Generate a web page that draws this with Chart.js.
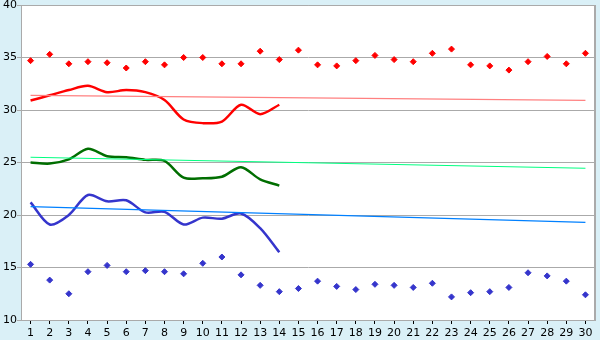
<!DOCTYPE html>
<html>
<head>
<meta charset="utf-8">
<script src="https://cdn.jsdelivr.net/npm/chart.js@4"></script>
<style>
  html, body { margin: 0; padding: 0; background: #daf0f7; }
  #wrap { width: 600px; height: 340px; }
</style>
</head>
<body>
<div id="wrap"><canvas id="graphique"></canvas></div>
<script>
var jours = ['1','2','3','4','5','6','7','8','9','10','11','12','13','14','15',
             '16','17','18','19','20','21','22','23','24','25','26','27','28','29','30'];
var maxi = [34.7,35.3,34.4,34.6,34.5,34.0,34.6,34.3,35.0,35.0,34.4,34.4,35.6,34.8,35.7,
            34.3,34.2,34.7,35.2,34.8,34.6,35.4,35.8,34.3,34.2,33.8,34.6,35.1,34.4,35.4];
var mini = [15.3,13.8,12.5,14.6,15.2,14.6,14.7,14.6,14.4,15.4,16.0,14.3,13.3,12.7,13.0,
            13.7,13.2,12.9,13.4,13.3,13.1,13.5,12.2,12.6,12.7,13.1,14.5,14.2,13.7,12.4];
var ligneRouge = [30.9,31.4,31.9,32.3,31.7,31.9,31.7,30.95,29.1,28.75,28.9,30.5,29.6,30.5];
var ligneVerte = [25.0,24.9,25.3,26.3,25.6,25.5,25.25,25.15,23.55,23.5,23.65,24.55,23.4,22.8];
var ligneBleue = [21.2,19.1,20.0,21.9,21.3,21.4,20.25,20.3,19.1,19.75,19.65,20.15,18.75,16.45];
// tendances : valeur au jour 1 et au jour 30
var tendRouge = [31.4, 30.92];
var tendVerte = [25.5, 24.45];
var tendBleue = [20.8, 19.3];

function tendance(v) {
  return [{x: jours[0], y: v[0]}, {x: jours[jours.length - 1], y: v[1]}];
}

var fond = {
  id: 'fond',
  beforeDraw: function(chart) {
    var c = chart.ctx, a = chart.chartArea;
    c.save();
    c.fillStyle = '#daf0f7';
    c.fillRect(0, 0, chart.width, chart.height);
    c.fillStyle = '#ffffff';
    c.fillRect(a.left, a.top, a.right - a.left, a.bottom - a.top);
    c.restore();
  },
  afterDraw: function(chart) {
    var c = chart.ctx, a = chart.chartArea;
    c.save();
    c.strokeStyle = '#aaaaaa';
    c.lineWidth = 1;
    c.beginPath();
    c.moveTo(a.left + 0.5, a.bottom);
    c.lineTo(a.left + 0.5, a.top + 0.5);
    c.lineTo(a.right, a.top + 0.5);
    c.stroke();
    c.lineWidth = 2;
    c.beginPath();
    c.moveTo(a.right, a.top);
    c.lineTo(a.right, a.bottom);
    c.stroke();
    c.restore();
  }
};

var donnee = {
  labels: jours,
  datasets: [
    { data: tendance(tendRouge), borderColor: '#ff8080', borderWidth: 1.2, pointRadius: 0, tension: 0 },
    { data: tendance(tendVerte), borderColor: '#00ff80', borderWidth: 1.2, pointRadius: 0, tension: 0 },
    { data: tendance(tendBleue), borderColor: '#0080ff', borderWidth: 1.2, pointRadius: 0, tension: 0 },
    { data: ligneRouge, borderColor: '#ff0000', borderWidth: 2.5, pointRadius: 0, tension: 0.3 },
    { data: ligneVerte, borderColor: '#006e00', borderWidth: 2.5, pointRadius: 0, tension: 0.3 },
    { data: ligneBleue, borderColor: '#3535cc', borderWidth: 2.5, pointRadius: 0, tension: 0.3 },
    { data: maxi, showLine: false, pointStyle: 'rectRot', pointRadius: 3,
      backgroundColor: '#ff0000', borderColor: '#ff0000', borderWidth: 1 },
    { data: mini, showLine: false, pointStyle: 'rectRot', pointRadius: 3,
      backgroundColor: '#3535cc', borderColor: '#3535cc', borderWidth: 1 }
  ]
};

var police = { family: 'DejaVu Sans', size: 11 };

var options = {
  responsive: true,
  maintainAspectRatio: false,
  animation: false,
  layout: { padding: { top: 5, right: 5, left: 0, bottom: 0 } },
  plugins: { legend: { display: false }, tooltip: { enabled: false } },
  scales: {
    x: {
      type: 'category',
      offset: true,
      grid: { display: true, offset: false, drawOnChartArea: false, drawTicks: true,
              tickLength: 4, color: '#000000' },
      border: { display: true, color: '#aaaaaa' },
      ticks: { color: '#000000', font: police, padding: 3, maxRotation: 0, autoSkip: false },
      afterFit: function(s) { s.height = 20; s.paddingLeft = 0; s.paddingRight = 0; }
    },
    y: {
      min: 10, max: 40,
      grid: { color: '#aaaaaa', lineWidth: 1, drawTicks: true, tickLength: 4 },
      border: { display: true, color: '#aaaaaa' },
      ticks: { stepSize: 5, color: '#000000', font: police, padding: 0 },
      afterFit: function(s) { s.width = 21; s.paddingTop = 0; s.paddingBottom = 0; }
    }
  }
};

var ctx = document.getElementById('graphique').getContext('2d');
var graph = new Chart(ctx, { type: 'line', data: donnee, options: options, plugins: [fond] });
</script>
</body>
</html>
